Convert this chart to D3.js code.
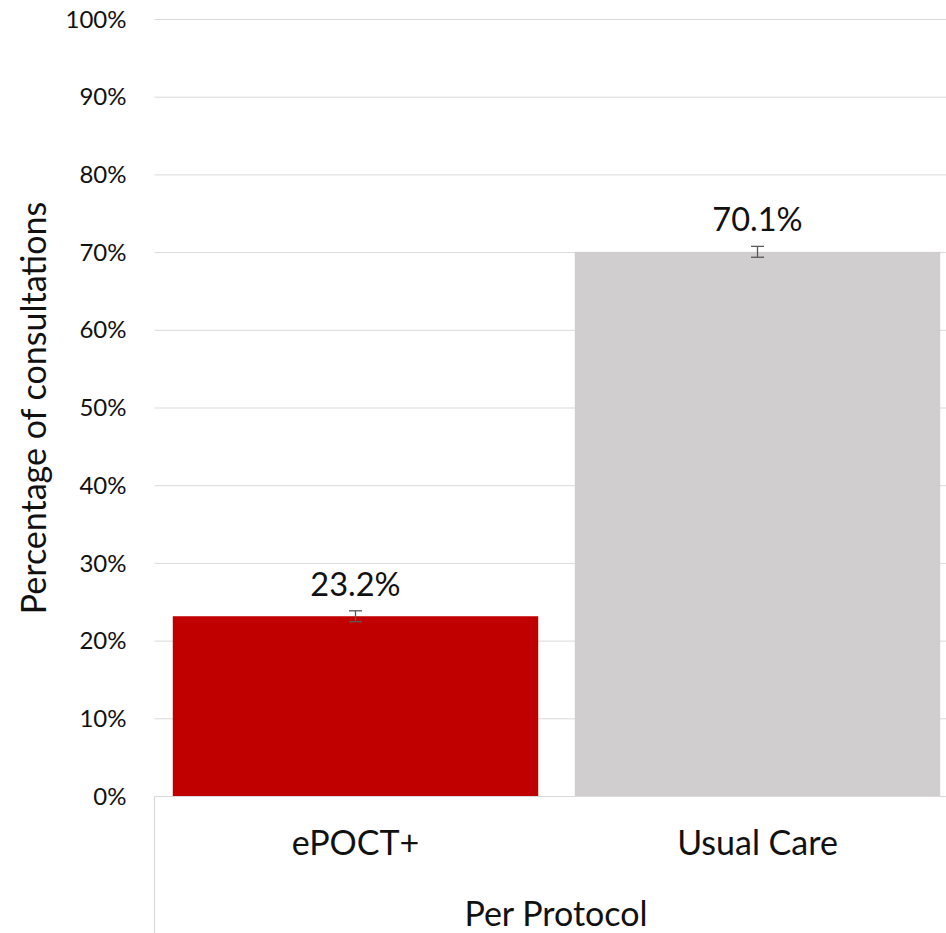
<!DOCTYPE html>
<html>
<head>
<meta charset="utf-8">
<script src="https://cdn.jsdelivr.net/npm/d3@7"></script>
<style>
  html, body { margin: 0; padding: 0; background: #fff; }
  svg { display: block; }
  text { font-family: Lato, "Open Sans", sans-serif; fill: #111; }
</style>
</head>
<body>
<svg id="chart" width="946" height="933"></svg>
<script>
const categories = ["ePOCT+", "Usual Care"];
const values = [23.2, 70.1];
const errLow = [22.5, 69.4];
const errHigh = [23.9, 70.8];
const barColors = ["#C00000", "#D0CECE"];
const yTicks = [0, 10, 20, 30, 40, 50, 60, 70, 80, 90, 100];
const groupLabel = "Per Protocol";
const yTitle = "Percentage of consultations";

const svg = d3.select("#chart");
const W = 946, H = 933;
const x0 = 154.5, x1 = 958.5, yTop = 19.5, yBot = 796.5;

const x = d3.scaleBand().domain(categories).range([x0, x1])
  .paddingInner(0.091).paddingOuter(0.0455);
const y = d3.scaleLinear().domain([0, 100]).range([yBot, yTop]);

// gridlines
svg.append("g").selectAll("line").data(yTicks.filter(t => t > 0)).join("line")
  .attr("x1", x0).attr("x2", W)
  .attr("y1", d => y(d)).attr("y2", d => y(d))
  .attr("stroke", "#d9d9d9").attr("stroke-width", 1);

// y axis labels
const yAxis = d3.axisLeft(y).tickValues(yTicks).tickFormat(d => d + "%").tickSize(0).tickPadding(28);
const ga = svg.append("g").attr("transform", `translate(${x0},0)`).call(yAxis);
ga.select(".domain").remove();
ga.selectAll("text").style("font-size", "24px").attr("fill", "#111")
  .style("font-family", "Lato, sans-serif");

// bars
svg.append("g").selectAll("rect").data(categories).join("rect")
  .attr("x", d => x(d)).attr("width", x.bandwidth())
  .attr("y", (d, i) => y(values[i])).attr("height", (d, i) => y(0) - y(values[i]))
  .attr("fill", (d, i) => barColors[i]);

// x axis line
svg.append("line").attr("x1", x0).attr("x2", W).attr("y1", yBot).attr("y2", yBot)
  .attr("stroke", "#d9d9d9").attr("stroke-width", 1.2);
// group divider
svg.append("line").attr("x1", x0).attr("x2", x0).attr("y1", yBot).attr("y2", H)
  .attr("stroke", "#d9d9d9").attr("stroke-width", 1.2);

// error bars
const eb = svg.append("g").attr("stroke", "#595959").attr("stroke-width", 1.3);
categories.forEach((c, i) => {
  const cx = x(c) + x.bandwidth() / 2;
  eb.append("line").attr("x1", cx).attr("x2", cx).attr("y1", y(errHigh[i])).attr("y2", y(errLow[i]));
  eb.append("line").attr("x1", cx - 6.5).attr("x2", cx + 6.5).attr("y1", y(errHigh[i])).attr("y2", y(errHigh[i]));
  eb.append("line").attr("x1", cx - 6.5).attr("x2", cx + 6.5).attr("y1", y(errLow[i])).attr("y2", y(errLow[i]));
});

// data labels
svg.append("g").selectAll("text").data(categories).join("text")
  .attr("x", d => x(d) + x.bandwidth() / 2)
  .attr("y", (d, i) => y(errHigh[i]) - 15)
  .attr("text-anchor", "middle").style("font-size", "32.5px")
  .text((d, i) => values[i].toFixed(1) + "%");

// category labels
svg.append("g").selectAll("text").data(categories).join("text")
  .attr("x", d => x(d) + x.bandwidth() / 2)
  .attr("y", 855)
  .attr("text-anchor", "middle").style("font-size", "34px")
  .text(d => d);

// group label
svg.append("text").attr("x", 556).attr("y", 926).attr("text-anchor", "middle")
  .style("font-size", "34px").text(groupLabel);

// y title
svg.append("text").attr("transform", "translate(46,408) rotate(-90)")
  .attr("text-anchor", "middle").style("font-size", "34px").text(yTitle);
</script>
</body>
</html>
